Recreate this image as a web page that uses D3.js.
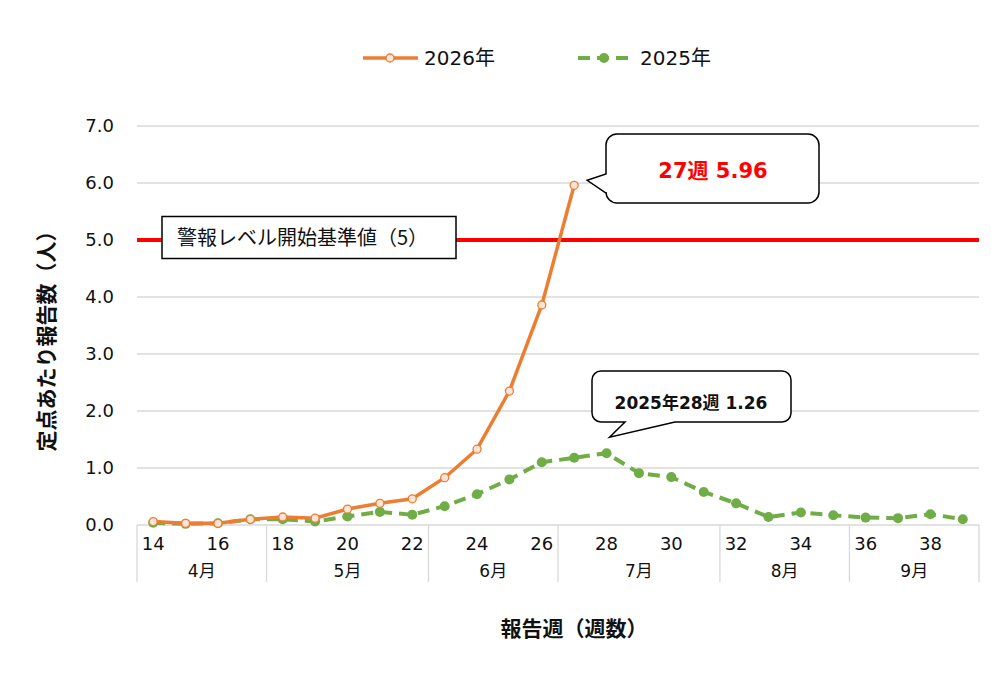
<!DOCTYPE html>
<html>
<head>
<meta charset="utf-8">
<script src="https://cdn.jsdelivr.net/npm/d3@7"></script>
<style>
	body { margin: 0; background: #fff; }
	svg text { font-family: "DejaVu Sans", "Noto Sans CJK JP", sans-serif; }
</style>
</head>
<body>
<div id="graph"></div>
<script>
var weeks = [14, 15, 16, 17, 18, 19, 20, 21, 22, 23, 24, 25, 26, 27, 28, 29, 30, 31, 32, 33, 34, 35, 36, 37, 38, 39];
var weekLabels = [14, 16, 18, 20, 22, 24, 26, 28, 30, 32, 34, 36, 38];
var months = ["4月", "5月", "6月", "7月", "8月", "9月"];
var monthStart = [14, 18, 23, 27, 32, 36];
var monthEnd = [17, 22, 26, 31, 35, 39];
var values2026 = [0.06, 0.03, 0.03, 0.10, 0.14, 0.12, 0.28, 0.38, 0.46, 0.83, 1.33, 2.35, 3.86, 5.96];
var values2025 = [0.04, 0.02, 0.03, 0.10, 0.10, 0.06, 0.15, 0.23, 0.18, 0.33, 0.54, 0.80, 1.10, 1.18, 1.26,
	0.91, 0.84, 0.58, 0.38, 0.14, 0.22, 0.17, 0.13, 0.12, 0.19, 0.10];
var yTicks = [0, 1, 2, 3, 4, 5, 6, 7];
var threshold = 5;

var	SVGwidth = 991,
	SVGheight = 676,
	margin = {top: 126, right: 12, bottom: 151, left: 137},
	width = SVGwidth - margin.left - margin.right,
	height = SVGheight - margin.top - margin.bottom;

var orange = "#ED7D31", green = "#70AD47", grid = "#d9d9d9";
var cjk = "'Noto Sans CJK JP', sans-serif";

var svg = d3.select('div#graph')
	.append('svg')
	.attr('width', SVGwidth)
	.attr('height', SVGheight);

var g = svg.append("g")
	.attr("transform", "translate(" + margin.left + "," + margin.top + ")");

var x = d3.scaleBand()
	.domain(weeks)
	.range([0, width]);

var y = d3.scaleLinear()
	.domain([0, 7])
	.range([height, 0]);

function cx(w) { return x(w) + x.bandwidth() / 2; }

// gridlines
g.selectAll(".grid")
	.data(yTicks)
	.enter()
	.append("line")
	.attr("x1", 0)
	.attr("x2", width)
	.attr("y1", function(d) { return y(d); })
	.attr("y2", function(d) { return y(d); })
	.attr("stroke", grid)
	.attr("stroke-width", 1.3);

// y tick labels
g.selectAll(".ylab")
	.data(yTicks)
	.enter()
	.append("text")
	.attr("x", -23)
	.attr("y", function(d) { return y(d); })
	.attr("dy", "0.36em")
	.attr("text-anchor", "end")
	.attr("font-size", 18)
	.attr("fill", "#111")
	.text(function(d) { return d.toFixed(1); });

// x axis: week labels
g.selectAll(".xlab")
	.data(weekLabels)
	.enter()
	.append("text")
	.attr("x", function(d) { return cx(d); })
	.attr("y", height + 25)
	.attr("text-anchor", "middle")
	.attr("font-size", 18)
	.attr("fill", "#111")
	.text(function(d) { return d; });

// month separators
var seps = [monthStart[0]].concat(monthEnd);
g.selectAll(".sep")
	.data(seps)
	.enter()
	.append("line")
	.attr("x1", function(d, i) { return i === 0 ? x(d) : x(d) + x.bandwidth(); })
	.attr("x2", function(d, i) { return i === 0 ? x(d) : x(d) + x.bandwidth(); })
	.attr("y1", height)
	.attr("y2", height + 57)
	.attr("stroke", grid)
	.attr("stroke-width", 1.3);

g.selectAll(".month")
	.data(months)
	.enter()
	.append("text")
	.attr("x", function(d, i) { return (x(monthStart[i]) + x(monthEnd[i]) + x.bandwidth()) / 2; })
	.attr("y", height + 52)
	.attr("text-anchor", "middle")
	.attr("font-size", 17)
	.attr("fill", "#111")
	.text(function(d) { return d; });

// threshold line
g.append("line")
	.attr("x1", 0)
	.attr("x2", width)
	.attr("y1", y(threshold))
	.attr("y2", y(threshold))
	.attr("stroke", "#ff0000")
	.attr("stroke-width", 4);

var data2025 = values2025.map(function(v, i) { return {w: weeks[i], v: v}; });
var data2026 = values2026.map(function(v, i) { return {w: weeks[i], v: v}; });

var line = d3.line()
	.x(function(d) { return cx(d.w); })
	.y(function(d) { return y(d.v); });

// 2025 series
g.append("path")
	.datum(data2025)
	.attr("d", line)
	.attr("fill", "none")
	.attr("stroke", green)
	.attr("stroke-width", 4)
	.attr("stroke-dasharray", "12,7");

g.selectAll(".m2025")
	.data(data2025)
	.enter()
	.append("circle")
	.attr("cx", function(d) { return cx(d.w); })
	.attr("cy", function(d) { return y(d.v); })
	.attr("r", 5)
	.attr("fill", green);

// 2026 series
g.append("path")
	.datum(data2026)
	.attr("d", line)
	.attr("fill", "none")
	.attr("stroke", orange)
	.attr("stroke-width", 3.5);

g.selectAll(".m2026")
	.data(data2026)
	.enter()
	.append("circle")
	.attr("cx", function(d) { return cx(d.w); })
	.attr("cy", function(d) { return y(d.v); })
	.attr("r", 4)
	.attr("fill", "#fbe5d6")
	.attr("stroke", orange)
	.attr("stroke-width", 1.3);

// threshold label box
svg.append("rect")
	.attr("x", 162).attr("y", 216.5)
	.attr("width", 294).attr("height", 42)
	.attr("fill", "#fff")
	.attr("stroke", "#000")
	.attr("stroke-width", 1.5);
svg.append("text")
	.attr("x", 177).attr("y", 238)
	.attr("dy", "0.36em")
	.attr("font-size", 20)
	.style("font-family", cjk)
	.attr("fill", "#111")
	.text("警報レベル開始基準値（5）");

// callouts
function callout(bx, by, bw, bh, r, tip, base) {
	var p = d3.path();
	p.moveTo(bx + r, by);
	p.lineTo(bx + bw - r, by);
	p.arcTo(bx + bw, by, bx + bw, by + r, r);
	p.lineTo(bx + bw, by + bh - r);
	p.arcTo(bx + bw, by + bh, bx + bw - r, by + bh, r);
	if (base.side === "bottom") {
		p.lineTo(base.b, by + bh);
		p.lineTo(tip[0], tip[1]);
		p.lineTo(base.a, by + bh);
	}
	p.lineTo(bx + r, by + bh);
	p.arcTo(bx, by + bh, bx, by + bh - r, r);
	if (base.side === "left") {
		p.lineTo(bx, base.b);
		p.lineTo(tip[0], tip[1]);
		p.lineTo(bx, base.a);
	}
	p.lineTo(bx, by + r);
	p.arcTo(bx, by, bx + r, by, r);
	p.closePath();
	return p.toString();
}

var peak26 = data2026[data2026.length - 1];
var peak25 = data2025[14];

svg.append("path")
	.attr("d", callout(606, 134, 213, 69, 11, [margin.left + cx(peak26.w) + 13, margin.top + y(peak26.v) - 5], {side: "left", a: 174, b: 193}))
	.attr("fill", "#fff")
	.attr("stroke", "#000")
	.attr("stroke-width", 1.5);
svg.append("text")
	.attr("x", 713).attr("y", 170)
	.attr("dy", "0.36em")
	.attr("text-anchor", "middle")
	.attr("font-size", 21)
	.attr("font-weight", 700)
	.attr("fill", "#ff0000")
	.text(peak26.w + "週 " + peak26.v.toFixed(2));

svg.append("path")
	.attr("d", callout(592, 371, 199, 51, 9, [margin.left + cx(peak25.w) + 3, margin.top + y(peak25.v) - 16], {side: "bottom", a: 625, b: 675}))
	.attr("fill", "#fff")
	.attr("stroke", "#000")
	.attr("stroke-width", 1.5);
svg.append("text")
	.attr("x", 691).attr("y", 403)
	.attr("dy", "0.36em")
	.attr("text-anchor", "middle")
	.attr("font-size", 17)
	.attr("font-weight", 700)
	.attr("fill", "#111")
	.text("2025年" + peak25.w + "週 " + peak25.v.toFixed(2));

// legend
var legend = svg.append("g");
legend.append("line")
	.attr("x1", 363).attr("x2", 418).attr("y1", 58).attr("y2", 58)
	.attr("stroke", orange).attr("stroke-width", 3.5);
legend.append("circle")
	.attr("cx", 390).attr("cy", 58).attr("r", 4)
	.attr("fill", "#fbe5d6").attr("stroke", orange).attr("stroke-width", 1.3);
legend.append("text")
	.attr("x", 424).attr("y", 58).attr("dy", "0.36em")
	.attr("font-size", 20).attr("fill", "#111")
	.text("2026年");
legend.append("line")
	.attr("x1", 578).attr("x2", 632).attr("y1", 58).attr("y2", 58)
	.attr("stroke", green).attr("stroke-width", 4).attr("stroke-dasharray", "12,7");
legend.append("circle")
	.attr("cx", 604).attr("cy", 58).attr("r", 5)
	.attr("fill", green);
legend.append("text")
	.attr("x", 640).attr("y", 58).attr("dy", "0.36em")
	.attr("font-size", 20).attr("fill", "#111")
	.text("2025年");

// axis titles
svg.append("text")
	.attr("transform", "translate(46,336) rotate(-90)")
	.attr("dy", "0.36em")
	.attr("text-anchor", "middle")
	.attr("font-size", 21)
	.attr("font-weight", 700)
	.style("font-family", cjk)
	.attr("fill", "#111")
	.text("定点あたり報告数（人）");

svg.append("text")
	.attr("x", 574).attr("y", 628)
	.attr("dy", "0.36em")
	.attr("text-anchor", "middle")
	.attr("font-size", 21)
	.attr("font-weight", 700)
	.style("font-family", cjk)
	.attr("fill", "#111")
	.text("報告週（週数）");
</script>
</body>
</html>
